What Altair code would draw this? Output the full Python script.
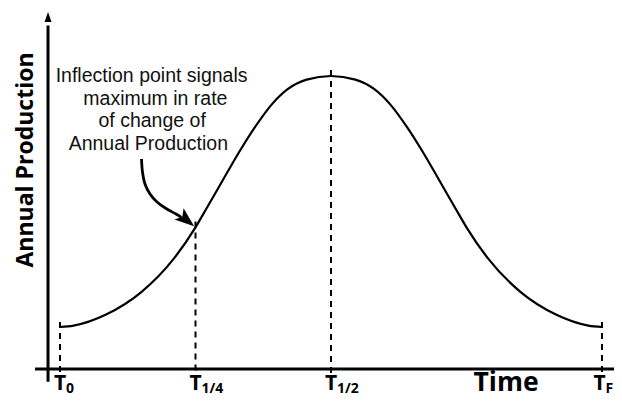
import altair as alt
import pandas as pd

# ---- data (time: T0=0 ... TF=1, production in arbitrary units) ----
curve_t = [0.00, 0.025, 0.085, 0.15, 0.21, 0.25, 0.27, 0.31, 0.33, 0.36, 0.39, 0.42, 0.455, 0.50,
           0.545, 0.58, 0.61, 0.64, 0.67, 0.69, 0.73, 0.75, 0.79, 0.85, 0.915, 0.975, 1.00]
curve_v = [11.8, 12.2, 15.3, 21.6, 31.0, 39.8, 45.0, 55.6, 60.8, 68.0, 74.2, 78.6, 81.3, 82.3,
           81.3, 78.6, 74.2, 68.0, 60.8, 55.6, 45.0, 39.8, 31.0, 21.6, 15.3, 12.2, 11.8]

tick_t = [0.0, 0.25, 0.5, 1.0]
tick_main = ["T", "T", "T", "T"]
tick_sub = ["0", "1/4", "1/2", "F"]
guide_top = [13.2, 41.4, 84.0, 13.2]
guide_bottom = [-2.0, -2.0, -2.0, -2.0]

note_lines = ["Inflection point signals", "maximum in rate", "of change of", "Annual Production"]
note_t = [0.169, 0.176, 0.170, 0.163]
note_v = [80.6, 74.2, 68.0, 61.5]

arrow_t = [0.1504, 0.1522, 0.1568, 0.1661, 0.1790, 0.1956, 0.2140, 0.2240]
arrow_v = [58.99, 55.34, 51.97, 49.16, 46.91, 45.08, 43.54, 42.60]
arrow_head_t = [0.2335]
arrow_head_v = [41.85]

axis_x_t = [-0.046, 1.03]       # x-axis extent
axis_y_t = -0.0221              # y-axis position
axis_y_v = [-3.6, 96.5]         # y-axis extent
axis_head_v = [97.5]

ylabel_t = [-0.0498]
ylabel_v = [58.7]
xlabel_t = [0.8229]

xs = alt.Scale(domain=[0, 1], nice=False, zero=False)
ys = alt.Scale(domain=[0, 100], nice=False, zero=False)


def X(f="t"):
    return alt.X(f, type="quantitative", scale=xs, axis=None)


def Y(f="v"):
    return alt.Y(f, type="quantitative", scale=ys, axis=None)


curve_df = pd.DataFrame({"t": curve_t, "v": curve_v})
guides_df = pd.DataFrame({"t": tick_t, "v": guide_top, "v2": guide_bottom,
                          "main": tick_main, "sub": tick_sub, "zero": [0.0] * len(tick_t)})
note_df = pd.DataFrame({"t": note_t, "v": note_v, "txt": note_lines})
arrow_df = pd.DataFrame({"t": arrow_t, "v": arrow_v, "o": list(range(len(arrow_t)))})
head_df = pd.DataFrame({"t": arrow_head_t, "v": arrow_head_v})
xaxis_df = pd.DataFrame({"t": axis_x_t, "v": [0.0, 0.0], "o": [0, 1]})
yaxis_df = pd.DataFrame({"t": [axis_y_t], "v": [axis_y_v[0]], "v2": [axis_y_v[1]]})
yhead_df = pd.DataFrame({"t": [axis_y_t], "v": axis_head_v})
ylabel_df = pd.DataFrame({"t": ylabel_t, "v": ylabel_v, "txt": ["Annual Production"]})
xlabel_df = pd.DataFrame({"t": xlabel_t, "v": [0.0], "txt": ["Time"]})

curve = alt.Chart(curve_df).mark_line(color="black", strokeWidth=2.2, interpolate="monotone").encode(
    x=X(), y=Y())

guides = alt.Chart(guides_df).mark_rule(color="black", strokeWidth=2, strokeDash=[6, 5]).encode(
    x=X(), y=Y(), y2="v2")

xaxis = alt.Chart(xaxis_df).mark_line(color="black", strokeWidth=3).encode(
    x=X(), y=Y(), order="o")

yaxis = alt.Chart(yaxis_df).mark_rule(color="black", strokeWidth=3).encode(
    x=X(), y=Y(), y2="v2")

yhead = alt.Chart(yhead_df).mark_point(shape="M0,-2L0.7,0L-0.7,0Z", size=100, filled=True,
                                       color="black", opacity=1, strokeWidth=0).encode(x=X(), y=Y())

main_style = dict(font="Open Sans", fontWeight="bold", fontSize=21, align="center",
                  baseline="alphabetic", dy=21, color="black")
sub_style = dict(font="Open Sans", fontWeight="bold", fontSize=14, align="left",
                 baseline="alphabetic", dy=24, color="black")

tmain = alt.Chart(guides_df).transform_filter(alt.datum.sub != "F").mark_text(
    **main_style).encode(x=X(), y=Y("zero"), text="main")
tsub = alt.Chart(guides_df).transform_filter(alt.datum.sub != "F").mark_text(
    dx=6, **sub_style).encode(x=X(), y=Y("zero"), text="sub")
tmain_f = alt.Chart(guides_df).transform_filter(alt.datum.sub == "F").mark_text(
    dx=-2.5, **main_style).encode(x=X(), y=Y("zero"), text="main")
tsub_f = alt.Chart(guides_df).transform_filter(alt.datum.sub == "F").mark_text(
    dx=3.5, **sub_style).encode(x=X(), y=Y("zero"), text="sub")

xlabel = alt.Chart(xlabel_df).mark_text(font="Open Sans", fontWeight="bold", fontSize=26.5,
                                        align="center", baseline="alphabetic", dy=21.5,
                                        color="black").encode(x=X(), y=Y(), text="txt")

ylabel = alt.Chart(ylabel_df).mark_text(font="Open Sans", fontWeight="bold", fontSize=23,
                                        align="center", baseline="alphabetic", angle=270,
                                        color="black").encode(x=X(), y=Y(), text="txt")

note = alt.Chart(note_df).mark_text(font="Liberation Sans", fontSize=19.5, align="center",
                                    baseline="alphabetic", color="#111111").encode(
    x=X(), y=Y(), text="txt")

arrow = alt.Chart(arrow_df).mark_line(color="black", strokeWidth=2.8, interpolate="cardinal").encode(
    x=X(), y=Y(), order="o")

head = alt.Chart(head_df).mark_point(shape="M1,0L-1,-0.75L-0.55,0L-1,0.75Z", size=380, angle=39,
                                     filled=True, color="black", opacity=1, strokeWidth=0).encode(
    x=X(), y=Y())

chart = alt.layer(
    guides, curve, xaxis, yaxis, yhead, tmain, tsub, tmain_f, tsub_f, xlabel, ylabel, note, arrow, head
).properties(
    width=542,
    height=356,
    padding={"left": 52, "top": 5, "right": 12, "bottom": 29},
    autosize=alt.AutoSizeParams(type="none"),
    background="white",
).configure_view(stroke=None)

chart.save("out.html", embed_options={"renderer": "svg", "actions": False})
